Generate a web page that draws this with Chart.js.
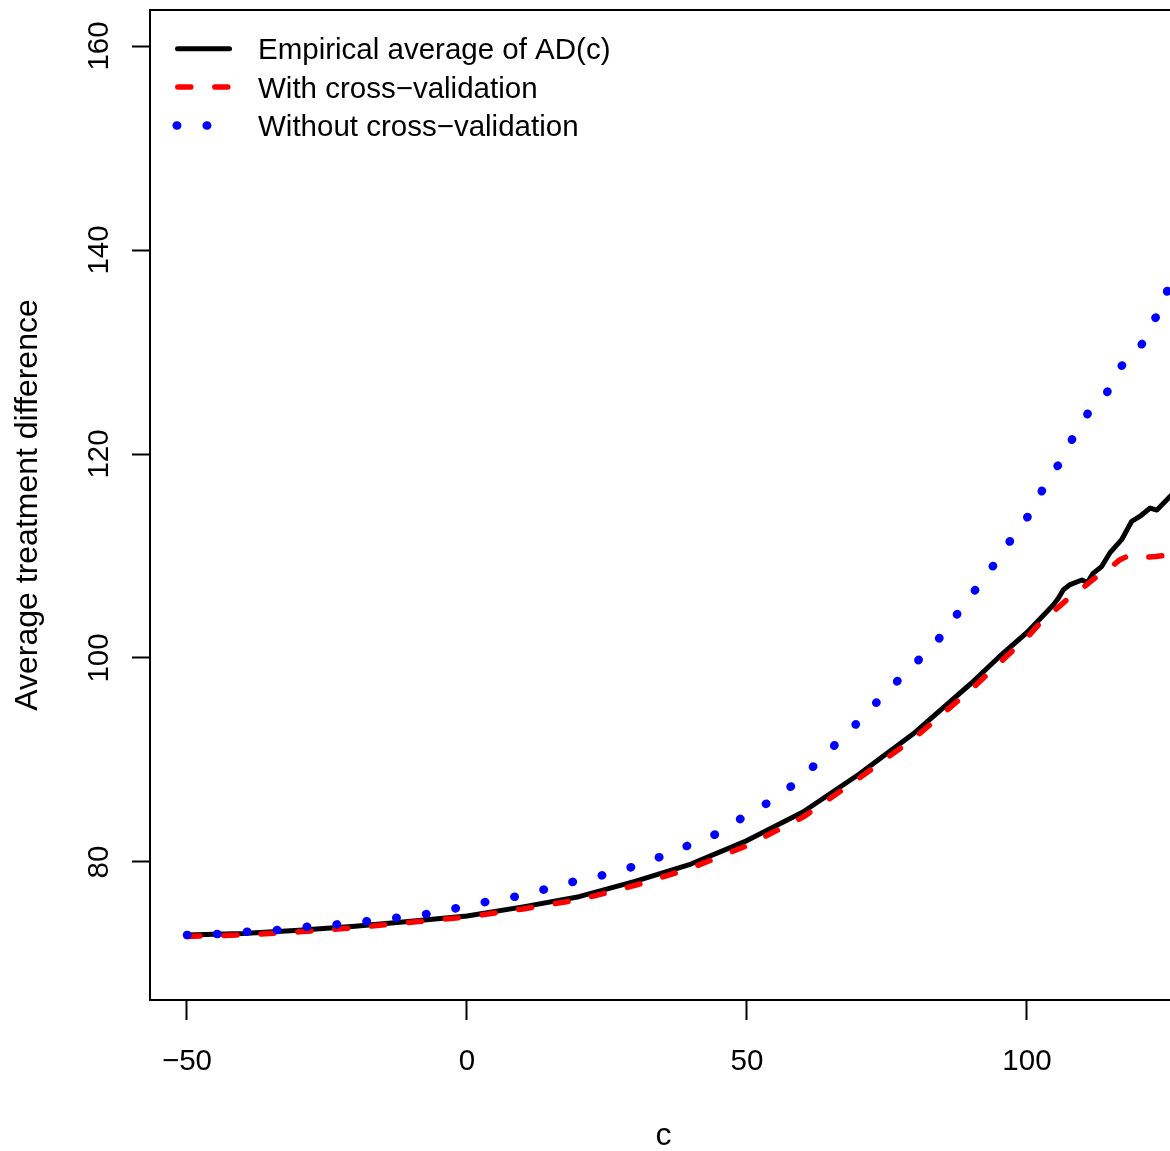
<!DOCTYPE html>
<html>
<head>
<meta charset="utf-8">
<script src="https://cdn.jsdelivr.net/npm/chart.js@4.4.1/dist/chart.umd.min.js"></script>
<style>
  html, body { margin: 0; padding: 0; background: #fff; overflow: hidden; }
  #wrap { width: 1170px; height: 1151px; overflow: hidden; }
</style>
</head>
<body>
<div id="wrap"><canvas id="myChart" width="1180" height="1151"></canvas></div>
<script>
// values
const xTicks = [-50, 0, 50, 100];
const yTicks = [80, 100, 120, 140, 160];

const empC = [-50, -40, -30, -20, -10, 0, 10, 20, 30, 40, 50, 60, 70, 80, 90, 95, 100,
  103.5, 104.7, 105.6, 106.5, 107.7, 109.8, 110.8, 111.8, 113.3, 114.8, 116.9,
  118.7, 120.2, 122, 123.2, 125.5, 127.5];
const empV = [72.85, 73.0, 73.3, 73.7, 74.2, 74.7, 75.6, 76.6, 78.1, 79.8, 82.1, 84.9, 88.6, 92.7, 97.5, 100.1, 102.5,
  104.5, 105.2, 105.85, 106.7, 107.2, 107.65, 107.4, 108.3, 108.95, 110.3, 111.6,
  113.4, 113.9, 114.7, 114.5, 115.8, 117.0];

const cvC = [-50, -40, -30, -20, -10, 0, 10, 20, 30, 40, 50, 60, 70, 80, 90,
  97.6, 100, 102.3, 104.4, 107.4, 109.8, 112.7, 115.1, 116.5, 118.4, 120, 121.3, 123, 125.2, 127.5];
const cvV = [72.7, 72.85, 73.15, 73.55, 74.1, 74.6, 75.4, 76.3, 77.7, 79.4, 81.6, 84.4, 88.2, 92.2, 96.9,
  100.8, 102.0, 103.4, 104.4, 105.85, 106.8, 108.1, 108.95, 109.6, 110.1, 110.05, 109.9, 109.95, 110.1, 110.1];

const noCvC = [-50, -44.4, -39.2, -33.8, -28.4, -23.1, -17.8, -12.5, -7.2, -2.0, 3.3, 8.6, 13.8, 19.0, 24.2,
  29.4, 34.5, 39.4, 44.3, 49.05, 53.7, 58.1, 62.1, 66.1, 70, 73.75, 77.7, 81.55, 85.3, 88.4,
  91.8, 95.1, 98.2, 101.2, 103.5, 106.4, 108.8, 111.9, 114.3, 116.8, 119.9, 122.2, 124.5, 125.5, 127.5];
const noCvV = [72.84, 72.94, 73.17, 73.33, 73.66, 73.89, 74.19, 74.54, 74.9, 75.46, 76.08, 76.6, 77.3, 78.07, 78.7,
  79.5, 80.5, 81.6, 82.7, 84.3, 85.8, 87.5, 89.5, 91.7, 93.8, 96.0, 98.2, 100.3, 102.5, 105.0,
  107.4, 109.9, 112.5, 114.6, 117.4, 119.5, 122.3, 124.8, 126.05, 128.6, 130.0, 132.9, 134.3, 137.4, 139.8];

const labels = ["Empirical average of AD(c)", "With cross\u2212validation", "Without cross\u2212validation"];

const FONT = '"Liberation Sans", Arial, Helvetica, sans-serif';
const FS = 29.5;   // axis numbers and legend
const FT = 32;     // axis titles

function pts(xs, ys) {
  return xs.map((x, i) => ({ x: x, y: ys[i] }));
}
function fmt(v) {
  return v < 0 ? "\u2212" + Math.abs(v) : String(v);
}

// box top edge, y tick labels (R style, rotated) and legend
const extras = {
  id: "extras",
  afterDraw(chart) {
    const ctx = chart.ctx;
    const a = chart.chartArea;
    const ys = chart.scales.y;
    ctx.save();
    ctx.strokeStyle = "#000";
    ctx.lineWidth = 2;
    ctx.beginPath();
    ctx.moveTo(a.left - 1, a.top);
    ctx.lineTo(a.right, a.top);
    ctx.stroke();

    ctx.fillStyle = "#000";
    ctx.font = FS + "px " + FONT;
    ctx.textAlign = "center";
    ctx.textBaseline = "alphabetic";
    for (const t of ys.ticks) {
      const py = ys.getPixelForValue(t.value);
      ctx.save();
      ctx.translate(a.left - 42, py);
      ctx.rotate(-Math.PI / 2);
      ctx.fillText(fmt(t.value), 0, 0);
      ctx.restore();
    }

    // legend
    const rows = [a.top + 38.8, a.top + 77.1, a.top + 115.4];
    chart.data.datasets.forEach(function (ds, i) {
      const y = rows[i];
      ctx.save();
      ctx.strokeStyle = ds.borderColor;
      ctx.lineWidth = ds.borderWidth;
      ctx.lineCap = "round";
      ctx.setLineDash(ds.borderDash || []);
      ctx.beginPath();
      if (i === 0) { ctx.moveTo(a.left + 27.5, y); ctx.lineTo(a.left + 79.5, y); }
      else if (i === 1) { ctx.moveTo(a.left + 27.8, y); ctx.lineTo(a.left + 80, y); }
      else { ctx.moveTo(a.left + 26.7, y); ctx.lineTo(a.left + 82, y); }
      ctx.stroke();
      ctx.restore();
      ctx.textAlign = "left";
      ctx.fillText(labels[i], a.left + 108, y + 0.358 * FS);
    });
    ctx.restore();
  }
};

const ctx = document.getElementById("myChart").getContext("2d");
const myChart = new Chart(ctx, {
  type: "line",
  data: {
    datasets: [
      {
        label: labels[0],
        data: pts(empC, empV),
        borderColor: "#000000",
        borderWidth: 5,
        pointRadius: 0,
        tension: 0,
        fill: false,
        borderCapStyle: "round",
        borderJoinStyle: "round",
        order: 3
      },
      {
        label: labels[1],
        data: pts(cvC, cvV),
        borderColor: "#ff0000",
        borderWidth: 5.5,
        borderDash: [13, 24],
        pointRadius: 0,
        tension: 0,
        fill: false,
        borderCapStyle: "round",
        borderJoinStyle: "round",
        order: 2
      },
      {
        label: labels[2],
        data: pts(noCvC, noCvV),
        borderColor: "#0000ff",
        borderWidth: 8.5,
        borderDash: [0.5, 29.5],
        pointRadius: 0,
        tension: 0,
        fill: false,
        borderCapStyle: "round",
        borderJoinStyle: "round",
        order: 1
      }
    ]
  },
  options: {
    responsive: false,
    devicePixelRatio: 1,
    animation: false,
    events: [],
    layout: { padding: { top: 10, left: 0, right: 3, bottom: 0 } },
    plugins: {
      legend: { display: false },
      tooltip: { enabled: false },
      title: { display: false }
    },
    scales: {
      x: {
        type: "linear",
        min: -56.607,
        max: 126.79,
        afterBuildTicks: function (s) { s.ticks = xTicks.map(v => ({ value: v })); },
        afterFit: function (s) { s.height = 151; },
        grid: { display: true, drawOnChartArea: false, drawTicks: true, tickLength: 20, tickWidth: 2, tickColor: "#000" },
        border: { display: true, color: "#000", width: 2 },
        ticks: {
          color: "#000",
          font: { family: FONT, size: FS },
          padding: 24,
          maxRotation: 0,
          autoSkip: false,
          callback: function (v) { return fmt(v); }
        },
        title: {
          display: true,
          text: "c",
          color: "#000",
          font: { family: FONT, size: FT },
          padding: { top: 0, bottom: -4.4 }
        }
      },
      y: {
        type: "linear",
        min: 66.47,
        max: 163.53,
        afterBuildTicks: function (s) { s.ticks = yTicks.map(v => ({ value: v })); },
        afterFit: function (s) { s.width = 150; },
        grid: { display: true, drawOnChartArea: false, drawTicks: true, tickLength: 18, tickWidth: 2, tickColor: "#000" },
        border: { display: true, color: "#000", width: 2 },
        ticks: { display: false },
        title: {
          display: true,
          text: "Average treatment difference",
          color: "#000",
          font: { family: FONT, size: FT },
          padding: { top: 8.5, bottom: 0 }
        }
      }
    }
  },
  plugins: [extras]
});
</script>
</body>
</html>
